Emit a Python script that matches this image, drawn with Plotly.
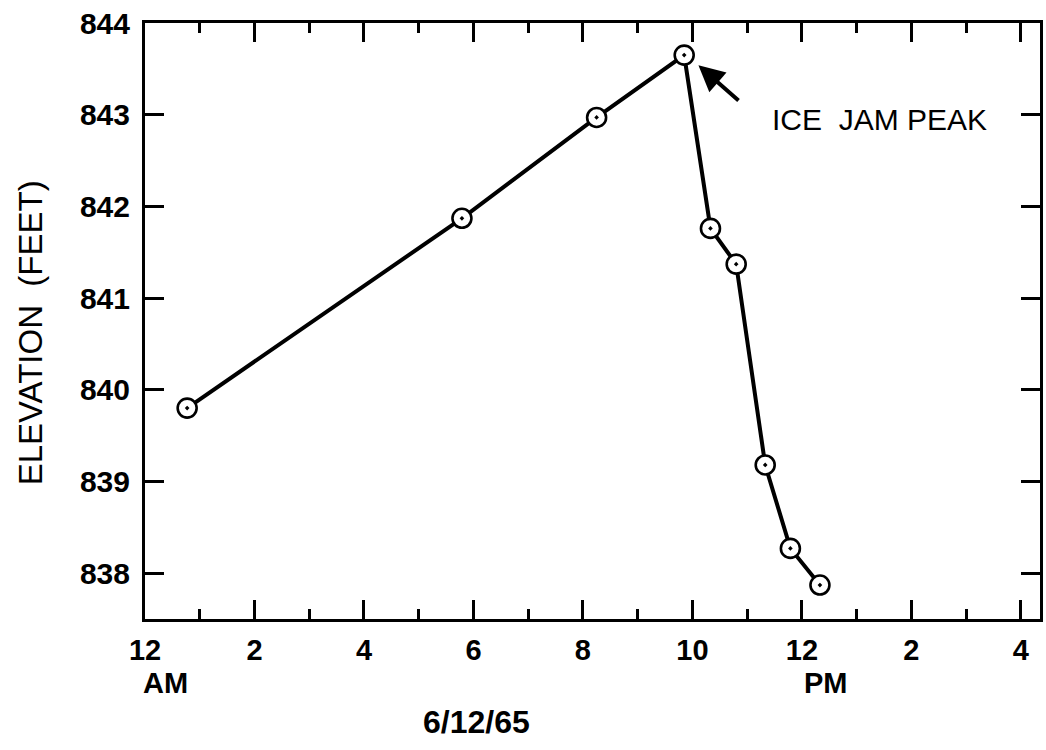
import plotly.graph_objects as go

# Data (hours after midnight, elevation in feet) — 6/12/65
hours = [0.77, 5.79, 8.25, 9.85, 10.33, 10.80, 11.33, 11.79, 12.33]
elevation = [839.80, 841.87, 842.97, 843.65, 841.76, 841.37, 839.18, 838.27, 837.87]

x_tick_vals = [0, 2, 4, 6, 8, 10, 12, 14, 16]
x_tick_text = ["12", "2", "4", "6", "8", "10", "12", "2", "4"]
y_tick_vals = [838, 839, 840, 841, 842, 843, 844]
y_tick_text = ["838", "839", "840", "841", "842", "843", "844"]

FONT = "Liberation Sans, Arial, Helvetica, sans-serif"

fig = go.Figure()
fig.add_trace(go.Scatter(
    x=hours, y=elevation, mode="lines+markers",
    line=dict(color="black", width=4),
    marker=dict(symbol="circle-dot", size=19, color="white",
                line=dict(color="black", width=2.6)),
    showlegend=False, hoverinfo="skip",
))

fig.update_layout(
    width=1046, height=750,
    margin=dict(l=145, r=3, t=23, b=131),
    paper_bgcolor="white", plot_bgcolor="white",
    font=dict(family=FONT, color="black"),
    xaxis=dict(
        range=[0, 16.35], tickmode="array", tickvals=x_tick_vals, ticktext=x_tick_text,
        ticks="inside", ticklen=19, tickwidth=2.8, tickcolor="black",
        minor=dict(ticks="inside", dtick=1, tick0=0, ticklen=10, tickwidth=2.8, tickcolor="black"),
        showline=True, linecolor="black", linewidth=3, mirror="ticks",
        showgrid=False, zeroline=False,
        tickfont=dict(size=29, family=FONT, weight="bold"),
        ticklabelstandoff=3,
    ),
    yaxis=dict(
        range=[837.5, 844], tickmode="array", tickvals=y_tick_vals, ticktext=y_tick_text,
        ticks="inside", ticklen=19, tickwidth=2.8, tickcolor="black",
        showline=True, linecolor="black", linewidth=3, mirror="ticks",
        showgrid=False, zeroline=False,
        tickfont=dict(size=30, family=FONT, weight="bold"),
        ticklabelstandoff=6,
    ),
)

fig.add_annotation(
    x=10.11, y=843.54, ax=10.87, ay=843.14, xref="x", yref="y", axref="x", ayref="y",
    text="", showarrow=True, arrowhead=2, arrowsize=1.3, arrowwidth=4, arrowcolor="black",
)
fig.add_annotation(
    x=11.42, y=842.95, xref="x", yref="y", xanchor="left", yanchor="middle",
    text="ICE  JAM PEAK", showarrow=False, font=dict(size=30, family=FONT),
)
fig.add_annotation(
    x=0.38, y=-0.107, xref="x", yref="paper", xanchor="center", yanchor="middle",
    text="AM", showarrow=False, font=dict(size=29, family=FONT, weight="bold"),
)
fig.add_annotation(
    x=12.44, y=-0.107, xref="x", yref="paper", xanchor="center", yanchor="middle",
    text="PM", showarrow=False, font=dict(size=29, family=FONT, weight="bold"),
)
fig.add_annotation(
    x=0.37, y=-0.173, xref="paper", yref="paper", xanchor="center", yanchor="middle",
    text="6/12/65", showarrow=False, font=dict(size=32, family=FONT, weight="bold"),
)
fig.add_annotation(
    x=-0.128, y=0.48, xref="paper", yref="paper", xanchor="center", yanchor="middle",
    text="ELEVATION  (FEET)", textangle=-90, showarrow=False, font=dict(size=33, family=FONT),
)

fig.write_html("out.html")
